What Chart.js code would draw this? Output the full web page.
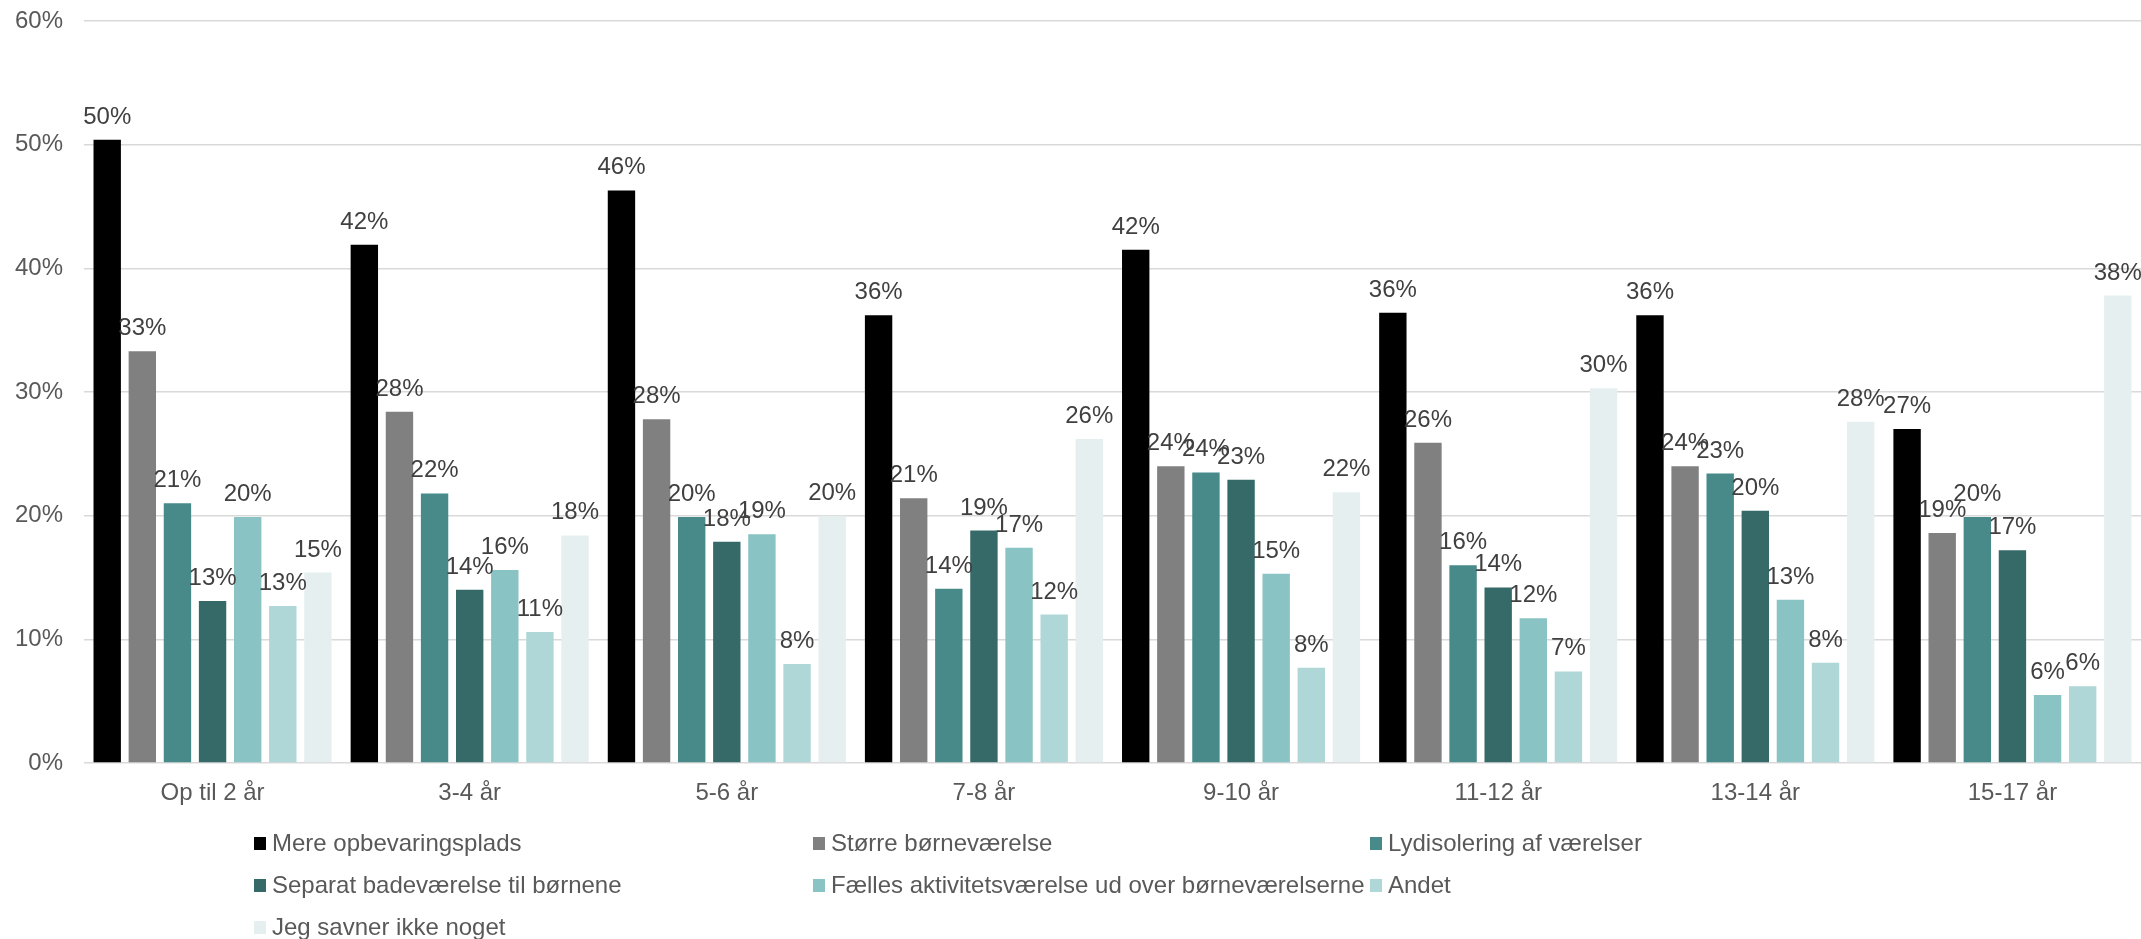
<!DOCTYPE html>
<html>
<head>
<meta charset="utf-8">
<script src="https://cdn.jsdelivr.net/npm/chart.js@4.4.1/dist/chart.umd.min.js"></script>
<style>
  html, body { margin: 0; padding: 0; background: #fff; overflow: hidden; }
  #wrap { width: 2141px; height: 939px; position: relative; }
</style>
</head>
<body>
<div id="wrap"><canvas id="chart"></canvas></div>
<script>
// ================= DATA =================
const ageGroups = ["Op til 2 år", "3-4 år", "5-6 år", "7-8 år", "9-10 år", "11-12 år", "13-14 år", "15-17 år"];
const seriesNames = [
  "Mere opbevaringsplads",
  "Større børneværelse",
  "Lydisolering af værelser",
  "Separat badeværelse til børnene",
  "Fælles aktivitetsværelse ud over børneværelserne",
  "Andet",
  "Jeg savner ikke noget"
];
const mereOpbevaring   = [50.4, 41.9, 46.3, 36.2, 41.5, 36.4, 36.2, 27.0];
const stoerreVaerelse  = [33.3, 28.4, 27.8, 21.4, 24.0, 25.9, 24.0, 18.6];
const lydisolering     = [21.0, 21.8, 19.9, 14.1, 23.5, 16.0, 23.4, 19.9];
const separatBad       = [13.1, 14.0, 17.9, 18.8, 22.9, 14.2, 20.4, 17.2];
const faellesRum       = [19.9, 15.6, 18.5, 17.4, 15.3, 11.7, 13.2,  5.5];
const andet            = [12.7, 10.6,  8.0, 12.0,  7.7,  7.4,  8.1,  6.2];
const savnerIkke       = [15.4, 18.4, 20.0, 26.2, 21.9, 30.3, 27.6, 37.8];
const yTicks = [0, 10, 20, 30, 40, 50, 60];

const seriesValues = [mereOpbevaring, stoerreVaerelse, lydisolering, separatBad, faellesRum, andet, savnerIkke];
const seriesColors = ["#000000", "#808080", "#478A89", "#366A69", "#89C3C3", "#B0D7D8", "#E6EFF0"];

const FONT = "'Liberation Sans', Arial, sans-serif";
const TEXT = "#595959";
const FS = 24;

// ================= PLUGINS =================
const valueLabels = {
  id: "valueLabels",
  afterDatasetsDraw(chart) {
    const ctx = chart.ctx;
    ctx.save();
    ctx.font = FS + "px " + FONT;
    ctx.fillStyle = "#404040";
    ctx.textAlign = "center";
    ctx.textBaseline = "alphabetic";
    chart.data.datasets.forEach((ds, i) => {
      chart.getDatasetMeta(i).data.forEach((bar, j) => {
        ctx.fillText(Math.round(ds.data[j]) + "%", bar.x, bar.y - 16);
      });
    });
    ctx.restore();
  }
};

const gridLegend = {
  id: "gridLegend",
  afterDraw(chart) {
    const ctx = chart.ctx;
    const cols = [254, 813, 1370];
    const rows = [844, 886, 928];
    ctx.save();
    ctx.font = FS + "px " + FONT;
    ctx.textBaseline = "middle";
    ctx.textAlign = "left";
    chart.data.datasets.forEach((ds, i) => {
      const x = cols[i % 3];
      const y = rows[Math.floor(i / 3)];
      ctx.fillStyle = ds.backgroundColor;
      ctx.fillRect(x, y - 7, 12, 13);
      ctx.fillStyle = TEXT;
      ctx.fillText(ds.label, x + 18, y);
    });
    ctx.restore();
  }
};

// ================= CHART =================
new Chart(document.getElementById("chart"), {
  type: "bar",
  data: {
    labels: ageGroups,
    datasets: seriesNames.map((name, i) => ({
      label: name,
      data: seriesValues[i],
      backgroundColor: seriesColors[i],
      borderWidth: 0,
      categoryPercentage: 0.956,
      barPercentage: 0.78
    }))
  },
  options: {
    responsive: true,
    maintainAspectRatio: false,
    animation: false,
    layout: { padding: { top: 21, right: 0, left: 0, bottom: 0 } },
    plugins: {
      legend: { display: false },
      tooltip: { enabled: false }
    },
    scales: {
      x: {
        grid: { display: false, drawTicks: false },
        border: { display: false },
        ticks: { color: TEXT, font: { family: FONT, size: FS }, padding: 16 },
        afterFit(scale) { scale.height = 176; }
      },
      y: {
        min: 0,
        max: 60,
        afterBuildTicks(scale) { scale.ticks = yTicks.map(v => ({ value: v })); },
        grid: { color: "#D9D9D9", lineWidth: 1.5, drawTicks: false },
        border: { display: false },
        ticks: {
          color: TEXT,
          font: { family: FONT, size: FS },
          padding: 21,
          callback: v => v + "%"
        },
        afterFit(scale) {
          scale.width = 84;
          scale.paddingTop = 0;
          scale.paddingBottom = 0;
        }
      }
    }
  },
  plugins: [valueLabels, gridLegend]
});
</script>
</body>
</html>
